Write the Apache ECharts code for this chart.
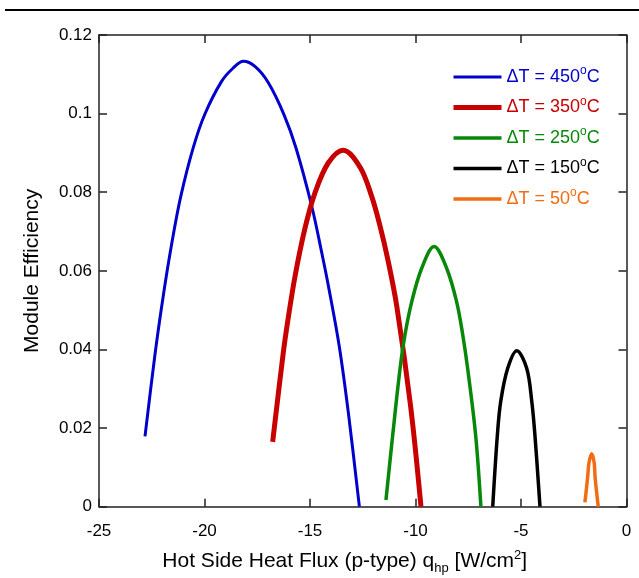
<!DOCTYPE html>
<html>
<head>
<meta charset="utf-8">
<script src="https://cdn.jsdelivr.net/npm/echarts@6/dist/echarts.min.js"></script>
<style>
  html, body { margin: 0; padding: 0; background: #fff; }
  #chart { width: 639px; height: 578px; }
</style>
</head>
<body>
<div id="chart"></div>
<script>
// values: [heat flux, efficiency]
const dt450 = [[-22.82, 0.0179], [-22.35, 0.0386], [-21.95, 0.0538], [-21.55, 0.0670], [-21.13, 0.0788],
  [-20.53, 0.0914], [-19.98, 0.0999], [-19.19, 0.1082], [-18.64, 0.1116], [-18.16, 0.1133],
  [-17.61, 0.1120], [-16.98, 0.1079], [-16.23, 0.0997], [-15.66, 0.0912], [-14.92, 0.0765],
  [-14.45, 0.0648], [-14.09, 0.0551], [-13.61, 0.0407], [-13.18, 0.0238], [-12.66, 0]];
const dt350 = [[-16.77, 0.0165], [-16.27, 0.0390], [-16.06, 0.0470], [-15.71, 0.0586], [-15.24, 0.0708],
  [-14.76, 0.0799], [-14.13, 0.0875], [-13.42, 0.0907], [-12.63, 0.0864], [-12.08, 0.0790],
  [-11.68, 0.0714], [-11.32, 0.0631], [-10.89, 0.0511], [-10.23, 0.0255], [-9.74, 0]];
const dt250 = [[-11.40, 0.0017], [-11.08, 0.0182], [-10.73, 0.0352], [-10.50, 0.0437], [-10.18, 0.0521],
  [-9.71, 0.0606], [-9.12, 0.0662], [-8.52, 0.0606], [-8.05, 0.0521], [-7.76, 0.0437],
  [-7.53, 0.0352], [-7.15, 0.0182], [-6.90, 0]];
const dt150 = [[-6.34, 0], [-6.12, 0.0182], [-5.96, 0.0268], [-5.63, 0.0352], [-5.20, 0.0397],
  [-4.73, 0.0352], [-4.49, 0.0268], [-4.34, 0.0182], [-4.10, 0]];
const dt50 = [[-1.97, 0.0011], [-1.84, 0.0076], [-1.78, 0.0111], [-1.65, 0.0135], [-1.53, 0.0111],
  [-1.49, 0.0076], [-1.34, 0]];

const seriesData = [dt450, dt350, dt250, dt150, dt50];
const deltaT = ['450', '350', '250', '150', '50'];
const colors = ['#0000cc', '#c80000', '#088808', '#000000', '#f26c14'];
const widths = [3, 5, 3.5, 3.5, 3.5];

const myChart = echarts.init(document.getElementById('chart'));
const font = 'Arial, "Liberation Sans", sans-serif';
const axisColor = '#222';

const option = {
  animation: false,
  textStyle: { fontFamily: font },
  graphic: [{
    type: 'rect',
    shape: { x: 5, y: 9, width: 634, height: 2 },
    style: { fill: '#000' }
  }],
  grid: { left: 99, top: 35, right: 12.5, bottom: 71.3, containLabel: false, outerBoundsMode: 'none' },
  legend: {
    orient: 'vertical',
    left: 446,
    top: 60,
    itemWidth: 48,
    itemHeight: 14,
    itemGap: 9.5,
    lineStyle: { width: 'inherit' },
    // hide the dot the line legend icon adds
    itemStyle: { color: 'rgba(0,0,0,0)', borderWidth: 0, opacity: 0 },
    data: deltaT.map((t, i) => ({ name: 'dt' + t, textStyle: { color: colors[i] } })),
    formatter: name => `{a|ΔT = ${name.slice(2)}}{s|o}{a|C}`,
    textStyle: {
      fontSize: 18,
      rich: {
        a: { fontSize: 18, lineHeight: 24, fontFamily: font },
        s: { fontSize: 12, lineHeight: 14, verticalAlign: 'top', fontFamily: font }
      }
    }
  },
  xAxis: [{
    type: 'value',
    min: -25, max: 0, interval: 5,
    name: '{a|Hot Side Heat Flux (p-type) q}{sub|hp}{a| [W/cm}{sup|2}{a|]}',
    nameLocation: 'middle',
    nameGap: 42,
    nameTextStyle: {
      color: '#000',
      padding: [0, 36, 0, 0],
      rich: {
        a: { fontSize: 21, lineHeight: 26, color: '#000', fontFamily: font },
        sub: { fontSize: 13, lineHeight: 13, verticalAlign: 'bottom', color: '#000', fontFamily: font },
        sup: { fontSize: 13, lineHeight: 13, verticalAlign: 'top', color: '#000', fontFamily: font }
      }
    },
    axisLine: { show: true, onZero: false, lineStyle: { color: axisColor, width: 1.5 } },
    axisTick: { show: true, inside: true, length: 8, lineStyle: { color: axisColor, width: 1.5 } },
    axisLabel: { fontSize: 17, color: '#000', margin: 16 },
    splitLine: { show: false }
  }, {
    type: 'value',
    position: 'top',
    min: -25, max: 0, interval: 5,
    axisLine: { show: true, onZero: false, lineStyle: { color: axisColor, width: 1.5 } },
    axisTick: { show: true, inside: true, length: 8, lineStyle: { color: axisColor, width: 1.5 } },
    axisLabel: { show: false },
    splitLine: { show: false }
  }],
  yAxis: [{
    type: 'value',
    min: 0, max: 0.12, interval: 0.02,
    name: 'Module Efficiency',
    nameLocation: 'middle',
    nameGap: 56,
    nameTextStyle: { fontSize: 21, color: '#000' },
    axisLine: { show: true, onZero: false, lineStyle: { color: axisColor, width: 1.5 } },
    axisTick: { show: true, inside: true, length: 8, lineStyle: { color: axisColor, width: 1.5 } },
    axisLabel: { fontSize: 17, color: '#000', margin: 7 },
    splitLine: { show: false }
  }, {
    type: 'value',
    position: 'right',
    min: 0, max: 0.12, interval: 0.02,
    axisLine: { show: true, onZero: false, lineStyle: { color: axisColor, width: 1.5 } },
    axisTick: { show: true, inside: true, length: 8, lineStyle: { color: axisColor, width: 1.5 } },
    axisLabel: { show: false },
    splitLine: { show: false }
  }],
  series: seriesData.map((d, i) => ({
    name: 'dt' + deltaT[i],
    type: 'line',
    data: d,
    smooth: 0.35,
    symbol: 'none',
    clip: true,
    lineStyle: { color: colors[i], width: widths[i] },
    itemStyle: { color: colors[i] }
  }))
};

myChart.setOption(option);
</script>
</body>
</html>
